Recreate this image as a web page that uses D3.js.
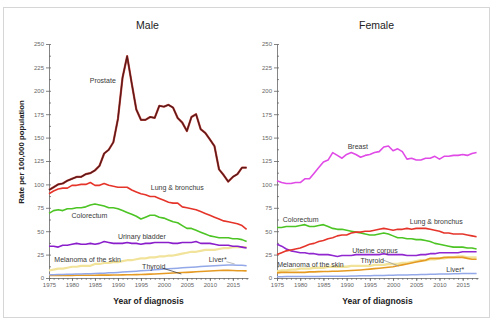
<!DOCTYPE html>
<html>
<head>
<meta charset="utf-8">
<script src="https://cdn.jsdelivr.net/npm/d3@7"></script>
<style>
  body { margin: 0; background: #fff; }
  text { font-family: "Liberation Sans", Arial, sans-serif; }
</style>
</head>
<body>
<div id="chart"></div>
<script>
// incidence rates per 100,000, one value per year 1975..2018
var years = d3.range(1975, 2019);
var yTicks = [0, 25, 50, 75, 100, 125, 150, 175, 200, 225, 250];
var xTicks = [1975, 1980, 1985, 1990, 1995, 2000, 2005, 2010, 2015];

var maleProstate = [94, 97, 100, 101, 104, 106, 108, 108, 111, 112, 115, 120, 133, 137, 145, 170, 214, 237, 208, 180, 169, 169, 172, 171, 184, 183, 185, 182, 171, 166, 157, 172, 175, 159, 155, 148, 141, 116, 110, 103, 108, 111, 118, 118];
var maleLung = [90, 93, 95, 96, 96, 99, 99, 100, 100, 102, 99, 99, 101, 99, 98, 97, 97, 97, 94, 92, 90, 89, 87, 87, 85, 83, 81, 80, 80, 76, 75, 74, 73, 71, 69, 67, 65, 63, 61, 60, 59, 58, 56, 52];
var maleColorectum = [69, 72, 73, 72, 74, 74, 75, 75, 76, 78, 79, 78, 77, 75, 75, 74, 72, 70, 68, 66, 63, 65, 67, 67, 65, 64, 62, 60, 59, 56, 53, 53, 51, 49, 47, 45, 44, 43, 43, 43, 42, 42, 41, 39];
var maleBladder = [34, 34, 33, 35, 35, 36, 37, 36, 36, 37, 36, 37, 39, 38, 37, 37, 37, 38, 37, 37, 36, 37, 37, 38, 38, 38, 38, 37, 37, 38, 38, 38, 39, 37, 37, 37, 36, 35, 35, 35, 34, 34, 33, 32];
var maleMelanoma = [8, 9, 10, 10, 11, 12, 12, 13, 13, 13, 15, 15, 16, 16, 17, 17, 18, 19, 19, 20, 21, 21, 22, 22, 23, 23, 24, 24, 25, 26, 27, 28, 28, 29, 30, 30, 30, 31, 32, 32, 33, 33, 33, 33];
var maleLiver = [3.5, 3.6, 3.7, 3.8, 4.0, 4.1, 4.2, 4.4, 4.5, 4.6, 4.8, 5.0, 5.2, 5.5, 5.7, 6.0, 6.3, 6.6, 7.0, 7.3, 7.7, 8.0, 8.4, 8.8, 9.2, 9.6, 9.9, 10.2, 10.5, 10.9, 11.2, 11.5, 11.8, 12.2, 12.5, 12.8, 13.1, 13.4, 13.6, 13.8, 13.8, 13.7, 13.5, 13.2];
var maleThyroid = [2.6, 2.6, 2.7, 2.7, 2.8, 2.8, 2.9, 2.9, 3.0, 3.0, 3.0, 3.1, 3.1, 3.1, 3.2, 3.2, 3.3, 3.4, 3.5, 3.6, 3.8, 3.9, 4.1, 4.3, 4.5, 4.8, 5.0, 5.3, 5.6, 5.8, 6.0, 6.3, 6.6, 6.9, 7.2, 7.5, 7.8, 8.0, 8.1, 8.2, 8.0, 7.8, 7.7, 7.6];

var femaleBreast = [104, 102, 101, 101, 102, 102, 106, 106, 112, 118, 124, 126, 134, 131, 128, 132, 134, 132, 129, 131, 132, 134, 135, 140, 141, 136, 138, 135, 127, 128, 126, 126, 128, 128, 130, 127, 130, 130, 131, 131, 132, 131, 133, 134];
var femaleColorectum = [54, 54, 55, 55, 55, 56, 57, 55, 55, 56, 57, 55, 53, 52, 52, 51, 50, 49, 48, 47, 46, 46, 47, 48, 47, 45, 43, 43, 42, 42, 41, 41, 40, 39, 37, 36, 35, 34, 33, 33, 33, 32, 32, 31];
var femaleLung = [25, 27, 29, 30, 31, 32, 34, 36, 37, 39, 40, 42, 43, 45, 46, 46, 48, 49, 49, 50, 50, 51, 52, 53, 52, 51, 52, 52, 53, 52, 53, 53, 53, 52, 51, 50, 48, 48, 47, 47, 47, 46, 45, 44];
var femaleUterine = [36, 34, 31, 29, 28, 27, 27, 26, 26, 25, 25, 25, 24, 23, 24, 24, 24, 25, 25, 25, 25, 25, 25, 26, 25, 25, 25, 25, 24, 24, 24, 25, 25, 26, 26, 27, 27, 27, 27, 27, 28, 28, 28, 28];
var femaleThyroid = [5.5, 6, 6, 6, 6, 6, 6, 6.5, 6.5, 6.8, 7, 7, 7.2, 7.2, 7.5, 7.8, 8, 8.3, 8.6, 9, 9.5, 10, 10.5, 11, 11.5, 12, 13, 14, 15, 16, 17, 18, 19, 21, 21, 21, 22, 22, 22, 22, 22, 21, 20, 20];
var femaleMelanoma = [7, 8, 8, 9, 9, 10, 10, 10, 11, 11, 11, 12, 12, 12, 12, 12, 13, 13, 13, 13, 13, 14, 14, 14, 15, 15, 15, 16, 16, 17, 18, 19, 19, 20, 20, 21, 21, 22, 22, 23, 23, 22, 22, 22];
var femaleLiver = [1.4, 1.4, 1.5, 1.5, 1.5, 1.6, 1.6, 1.6, 1.7, 1.7, 1.8, 1.8, 1.9, 1.9, 2.0, 2.0, 2.1, 2.2, 2.3, 2.4, 2.5, 2.6, 2.7, 2.8, 2.9, 3.0, 3.1, 3.2, 3.3, 3.4, 3.6, 3.7, 3.8, 4.0, 4.1, 4.2, 4.3, 4.4, 4.5, 4.6, 4.7, 4.8, 4.8, 4.9];

var colors = {
  prostate: "#5a1818", lung: "#e5352b", colorectum: "#4cc424", bladder: "#8a1ecb",
  melanoma: "#f2e39b", liver: "#93a8e8", thyroid: "#e59a24", breast: "#e04ae6", uterine: "#9027cf"
};

var panels = [
  {
    title: "Male", left: 49, right: 248, showYTitle: true,
    series: [
      {values: maleMelanoma, color: colors.melanoma, w: 2.2},
      {values: maleThyroid, color: colors.thyroid, w: 1.6},
      {values: maleLiver, color: colors.liver, w: 1.5},
      {values: maleBladder, color: colors.bladder, w: 1.6},
      {values: maleColorectum, color: colors.colorectum, w: 1.6},
      {values: maleLung, color: colors.lung, w: 1.6},
      {values: maleProstate, color: colors.prostate, w: 1.3, halo: "#c0463e"}
    ],
    labels: [
      {text: "Prostate", year: 1986.7, value: 208},
      {text: "Lung & bronchus", year: 2002.9, value: 94.5},
      {text: "Colorectum", year: 1983.8, value: 63.6},
      {text: "Urinary bladder", year: 1995.2, value: 42.2},
      {text: "Melanoma of the skin", year: 1983.4, value: 17.6},
      {text: "Thyroid", year: 1997.8, value: 9.1},
      {text: "Liver*", year: 2011.7, value: 16.6}
    ],
    leaders: [
      {from: [1999.8, 10.4], to: [2003.8, 4.3], color: "#444"},
      {from: [2013.6, 17.4], to: [2015.4, 15], color: "#aaa"}
    ]
  },
  {
    title: "Female", left: 277, right: 478, showYTitle: false,
    series: [
      {values: femaleLiver, color: colors.liver, w: 1.5},
      {values: femaleMelanoma, color: colors.melanoma, w: 2.4},
      {values: femaleThyroid, color: colors.thyroid, w: 1.6},
      {values: femaleUterine, color: colors.uterine, w: 1.6},
      {values: femaleColorectum, color: colors.colorectum, w: 1.6},
      {values: femaleLung, color: colors.lung, w: 1.6},
      {values: femaleBreast, color: colors.breast, w: 1.6}
    ],
    labels: [
      {text: "Breast", year: 1992.4, value: 137.8},
      {text: "Colorectum", year: 1980.1, value: 60.1},
      {text: "Lung & bronchus", year: 2009.3, value: 58},
      {text: "Uterine corpus", year: 1996.1, value: 27.1},
      {text: "Thyroid", year: 1995.5, value: 16.5},
      {text: "Melanoma of the skin", year: 1982.2, value: 12.2},
      {text: "Liver*", year: 2013.4, value: 5.9}
    ],
    leaders: [
      {from: [1997.9, 19.1], to: [2001.2, 12.8], color: "#999"}
    ]
  }
];

var W = 496, H = 322;
var plotTop = 44, plotBottom = 278;

var svg = d3.select("#chart").append("svg")
  .attr("width", W)
  .attr("height", H);

svg.append("rect")
  .attr("x", 3.5).attr("y", 7.5)
  .attr("width", 486).attr("height", 310)
  .attr("fill", "#fff")
  .attr("stroke", "#d6d6d6");

var y = d3.scaleLinear().domain([0, 250]).range([plotBottom, plotTop]);

panels.forEach(function(p) {
  var x = d3.scaleLinear().domain([1975, 2018.3]).range([p.left, p.right]);
  var g = svg.append("g");

  // minor ticks inside the frame, major ticks crossing the axis line
  g.append("g")
    .attr("transform", "translate(" + p.left + ",0)")
    .call(d3.axisRight(y).tickValues(d3.range(0, 251, 12.5)).tickSize(2).tickFormat(""))
    .call(function(a) { a.select(".domain").remove(); });
  g.append("g")
    .attr("transform", "translate(" + p.left + ",0)")
    .call(d3.axisLeft(y).tickValues(yTicks).tickSize(3).tickPadding(2).tickSizeOuter(0));
  g.append("g")
    .attr("transform", "translate(0," + plotBottom + ")")
    .call(d3.axisBottom(x).tickValues(years).tickSize(1.8).tickFormat(""))
    .call(function(a) { a.select(".domain").remove(); });
  g.append("g")
    .attr("transform", "translate(0," + plotBottom + ")")
    .call(d3.axisBottom(x).tickValues(xTicks).tickFormat(d3.format("d")).tickSize(3).tickPadding(2).tickSizeOuter(0));

  g.selectAll(".tick line, .domain").attr("stroke", "#666").attr("stroke-width", 0.8);
  g.selectAll(".tick text").attr("fill", "#666").attr("font-size", 6)
    .attr("font-family", "Liberation Sans, Arial, sans-serif");

  var line = d3.line()
    .x(function(d, i) { return x(years[i]); })
    .y(function(d) { return y(d); })
    .curve(d3.curveLinear);

  p.series.forEach(function(s) {
    if (s.halo) {
      g.append("path").datum(s.values)
        .attr("d", line).attr("fill", "none")
        .attr("stroke", s.halo).attr("stroke-width", s.w + 0.9)
        .attr("stroke-linejoin", "round");
    }
    g.append("path").datum(s.values)
      .attr("d", line).attr("fill", "none")
      .attr("stroke", s.color).attr("stroke-width", s.w)
      .attr("stroke-linejoin", "round");
  });

  p.leaders.forEach(function(l) {
    g.append("line")
      .attr("x1", x(l.from[0])).attr("y1", y(l.from[1]))
      .attr("x2", x(l.to[0])).attr("y2", y(l.to[1]))
      .attr("stroke", l.color).attr("stroke-width", 0.8);
  });

  g.selectAll(".series-label").data(p.labels).enter().append("text")
    .attr("class", "series-label")
    .attr("x", function(d) { return x(d.year); })
    .attr("y", function(d) { return y(d.value); })
    .attr("text-anchor", "middle")
    .attr("font-size", 7)
    .attr("fill", "#3a3a3a")
    .text(function(d) { return d.text; });

  // panel title
  g.append("text")
    .attr("x", (p.left + p.right) / 2 - 1)
    .attr("y", 29)
    .attr("text-anchor", "middle")
    .attr("font-size", 10.5)
    .attr("fill", "#222")
    .text(p.title);

  g.append("text")
    .attr("x", (p.left + p.right) / 2)
    .attr("y", 304)
    .attr("text-anchor", "middle")
    .attr("font-size", 8.5)
    .attr("font-weight", "bold")
    .attr("fill", "#222")
    .text("Year of diagnosis");

  if (p.showYTitle) {
    g.append("text")
      .attr("transform", "translate(24," + 152 + ") rotate(-90)")
      .attr("text-anchor", "middle")
      .attr("font-size", 7.8)
      .attr("font-weight", "bold")
      .attr("fill", "#222")
      .text("Rate per 100,000 population");
  }
});
</script>
</body>
</html>
